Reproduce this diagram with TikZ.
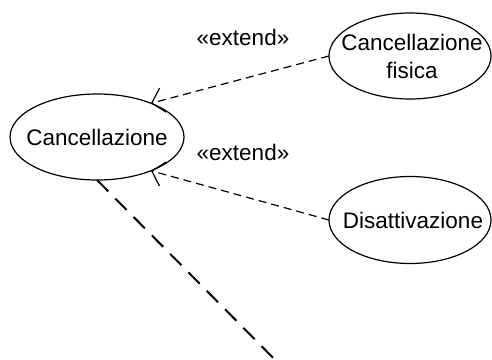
\documentclass[tikz,border=0pt]{standalone}
\usepackage{fontspec}
\setmainfont{Liberation Sans}
\usetikzlibrary{shapes.geometric,arrows.meta}
\begin{document}
\begin{tikzpicture}[x=1pt,y=-1pt,
  usecase/.style={draw=black,line width=1.2pt,ellipse,inner sep=0pt,outer sep=0pt},
  uctext/.style={font=\fontsize{22.5}{28}\selectfont,align=center,inner sep=0pt},
  ext/.style={draw=black,line width=1.2pt,dash pattern=on 8pt off 5pt,
    -{Straight Barb[length=11.5pt,width=25pt,line width=1.2pt]}},
  longdash/.style={draw=black,line width=2pt,dash pattern=on 16pt off 10pt},
  lbl/.style={font=\fontsize{22.5}{26}\selectfont,inner sep=0pt}]
\useasboundingbox (0,0) rectangle (492,359);
\clip (0,0) rectangle (492,359);
\node[usecase,minimum width=174pt,minimum height=86pt,
  label={[uctext]center:Cancellazione}] (canc) at (97,137) {};
\node[usecase,minimum width=162pt,minimum height=86pt,
  label={[uctext,xshift=2pt]center:Cancellazione\\fisica}] (fis) at (410,56) {};
\node[usecase,minimum width=162pt,minimum height=87pt,
  label={[uctext,xshift=3pt]center:Disattivazione}] (dis) at (410,220) {};
\node[lbl] (l1) at (243,37) {«extend»};
\node[lbl] (l2) at (243,152) {«extend»};
\coordinate (far) at (300,385);
\draw[ext] (fis.west) -- (canc.32);
\draw[ext] (dis.west) -- (canc.-32);
\draw[longdash] (canc.south) -- (far);
\end{tikzpicture}
\end{document}
